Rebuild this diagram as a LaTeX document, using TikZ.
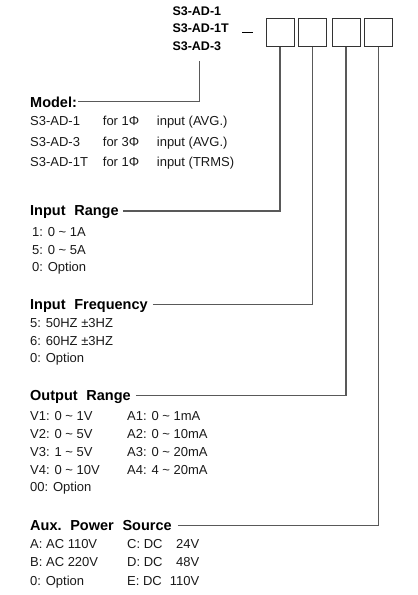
\documentclass[tikz,border=0pt]{standalone}
\usepackage{fontspec}
\setmainfont{Liberation Sans}
\newfontfamily\bodyf{Liberation Sans}
\newfontfamily\headf{Liberation Sans Bold}
\begin{document}
\begin{tikzpicture}[x=1pt,y=-1pt,
  body/.style={anchor=base west,inner sep=0pt,font=\bodyf\fontsize{13}{15}\selectfont,text=black!90},
  head/.style={anchor=base west,inner sep=0pt,font=\headf\fontsize{14.5}{17}\selectfont,text=black},
  model/.style={anchor=base west,inner sep=0pt,font=\headf\fontsize{12.5}{14}\selectfont,text=black},
  digit/.style={draw=black!80,line width=1pt,minimum width=28pt,minimum height=28pt,inner sep=0pt},
  conn/.style={draw=black!65,line width=1.2pt}]
\useasboundingbox (0,0) rectangle (418,595);
% header
\node[model] (h1) at (172.3,15) {S3-AD-1};
\node[model] (h2) at (172.3,32.7) {S3-AD-1T};
\node[model] (h3) at (172.3,50.7) {S3-AD-3};
\coordinate (d1) at (242.3,32.3);
\coordinate (d2) at (252.7,32.3);
\draw[black,line width=1pt] (d1) -- (d2);
\node[digit] (b1) at (280,32.5) {};
\node[digit] (b2) at (312.5,32.5) {};
\node[digit] (b3) at (346,32.5) {};
\node[digit] (b4) at (378.5,32.5) {};
\coordinate (mtop) at (199.3,61);
% Model
\node[head] (mh) at (30,107.7) {Model:};
\node[body] at (30,125.7) {S3-AD-1};
\node[body] at (102.7,125.7) {for 1Φ};
\node[body] at (156.7,125.7) {input (AVG.)};
\node[body] at (30,146.7) {S3-AD-3};
\node[body] at (102.7,146.7) {for 3Φ};
\node[body] at (156.7,146.7) {input (AVG.)};
\node[body] at (30,166.7) {S3-AD-1T};
\node[body] at (102.7,166.7) {for 1Φ};
\node[body] at (156.7,166.7) {input (TRMS)};
\draw[conn] (mtop) |- ([xshift=1pt,yshift=6pt]mh.base east);
% Input range
\node[head] (ir) at (30,215.7) {Input\hspace{0.6em}Range};
\node[body] at (32,236) {1: 0 \textasciitilde{} 1A};
\node[body] at (32,254) {5: 0 \textasciitilde{} 5A};
\node[body] at (32,271.7) {0: Option};
\draw[conn] ([xshift=4pt,yshift=4.7pt]ir.base east) -| (b1.south);
% Input frequency
\node[head] (if) at (30,309.3) {Input\hspace{0.6em}Frequency};
\node[body] at (30,327.3) {5: 50HZ ±3HZ};
\node[body] at (30,345) {6: 60HZ ±3HZ};
\node[body] at (30,362.7) {0: Option};
\draw[conn] ([xshift=5pt,yshift=5pt]if.base east) -| (b2.south);
% Output range
\node[head] (or) at (30,400.7) {Output\hspace{0.6em}Range};
\node[body] at (30,420) {V1: 0 \textasciitilde{} 1V};
\node[body] at (30,438.3) {V2: 0 \textasciitilde{} 5V};
\node[body] at (30,456.7) {V3: 1 \textasciitilde{} 5V};
\node[body] at (30,474.3) {V4: 0 \textasciitilde{} 10V};
\node[body] at (30,491.7) {00: Option};
\node[body] at (127,420) {A1: 0 \textasciitilde{} 1mA};
\node[body] at (127,438.3) {A2: 0 \textasciitilde{} 10mA};
\node[body] at (127,456.7) {A3: 0 \textasciitilde{} 20mA};
\node[body] at (127,474.3) {A4: 4 \textasciitilde{} 20mA};
\draw[conn] ([xshift=5pt,yshift=5pt]or.base east) -| (b3.south);
% Aux power source
\node[head] (ap) at (30,530.7) {Aux.\hspace{0.6em}Power\hspace{0.6em}Source};
\node[body] at (30,548.3) {A: AC 110V};
\node[body] at (30,566.7) {B: AC 220V};
\node[body] at (30,585) {0: Option};
\node[body] at (127,548.3) {\makebox[72pt][l]{C: DC\hfill 24V}};
\node[body] at (127,566.7) {\makebox[72pt][l]{D: DC\hfill 48V}};
\node[body] at (127,585) {\makebox[72pt][l]{E: DC\hfill 110V}};
\draw[conn] ([xshift=6pt,yshift=5pt]ap.base east) -| (b4.south);
\end{tikzpicture}
\end{document}
